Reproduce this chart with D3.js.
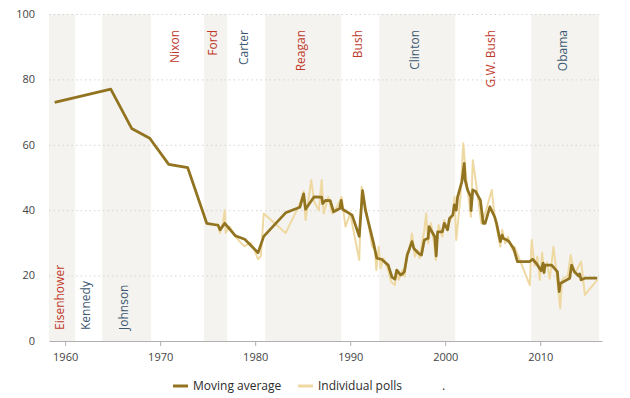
<!DOCTYPE html>
<html>
<head>
<meta charset="utf-8">
<script src="https://cdn.jsdelivr.net/npm/d3@7"></script>
<style>
  body { margin: 0; background: #fff; }
  text { font-family: "Open Sans", sans-serif; }
</style>
</head>
<body>
<div id="chart"></div>
<script>
// presidencies (start / end as decimal years)
const presidents = ["Eisenhower", "Kennedy", "Johnson", "Nixon", "Ford", "Carter", "Reagan", "Bush", "Clinton", "G.W. Bush", "Obama"];
const termStart = [1958.3, 1961.05, 1963.9, 1969.05, 1974.6, 1977.05, 1981.05, 1989.05, 1993.05, 2001.05, 2009.05];
const termEnd = [1961.05, 1963.9, 1969.05, 1974.6, 1977.05, 1981.05, 1989.05, 1993.05, 2001.05, 2009.05, 2016.2];
const party = ["R", "D", "D", "R", "R", "D", "R", "R", "D", "R", "D"];

const xTicks = [1960, 1970, 1980, 1990, 2000, 2010];
const yTicks = [0, 20, 40, 60, 80, 100];
const legendLabels = ["Moving average", "Individual polls"];

// [year, percent]
const movingAverage = [
  [1958.9, 73], [1964.8, 77], [1967.0, 65], [1968.9, 62], [1970.9, 54], [1972.9, 53],
  [1974.9, 36], [1976.1, 35.4], [1976.3, 34], [1976.8, 36], [1977.9, 32.2], [1978.9, 31.1],
  [1980.3, 27], [1980.9, 32], [1983.2, 39.2], [1984.7, 40.9], [1985.1, 45], [1985.3, 40.3],
  [1986.2, 44.1], [1987.0, 44], [1987.1, 42], [1987.4, 43], [1987.9, 42.9], [1988.25, 39.5],
  [1988.9, 40.5], [1989.05, 43], [1989.2, 40.3], [1990.2, 38.5], [1990.95, 32], [1991.3, 46],
  [1991.6, 40], [1992.45, 30], [1992.8, 25.3], [1993.3, 25], [1994.0, 23.2], [1994.4, 19.5],
  [1994.7, 18.9], [1994.9, 21.7], [1995.3, 20.2], [1995.5, 20.5], [1995.7, 21.2], [1996.0, 26.3],
  [1996.5, 30.4], [1996.7, 28.3], [1997.2, 26.8], [1997.5, 26.3], [1997.8, 30.9], [1998.2, 31.4],
  [1998.3, 35], [1998.6, 33.4], [1998.9, 31.9], [1999.05, 26], [1999.2, 33.4], [1999.7, 33.4],
  [1999.9, 36], [2000.25, 34], [2000.45, 37.5], [2000.8, 38.5], [2000.95, 41.6], [2001.16, 40],
  [2001.3, 44], [2001.75, 48.7], [2002.0, 54.3], [2002.1, 49.2], [2002.35, 46.2], [2002.7, 44.1],
  [2002.72, 39.9], [2002.9, 46.2], [2003.2, 45.7], [2003.7, 43.1], [2004.0, 36], [2004.2, 36],
  [2004.7, 41], [2005.2, 38], [2005.4, 36], [2005.8, 30.4], [2006.0, 32.4], [2006.1, 31.4],
  [2006.5, 30.9], [2006.7, 30.4], [2007.2, 28.3], [2007.6, 24.3], [2008.9, 24.3], [2009.2, 25],
  [2009.65, 23.5], [2010.1, 21.5], [2010.3, 23.8], [2010.4, 20.9], [2010.5, 23.2], [2011.2, 23.2],
  [2011.5, 22.2], [2011.8, 21.2], [2012.0, 15.1], [2012.1, 17.6], [2012.8, 18.7], [2013.1, 19.2],
  [2013.3, 23.2], [2013.6, 21.2], [2014.05, 19.9], [2014.15, 20.5], [2014.3, 18.7], [2014.7, 19.2],
  [2016.0, 19.2]
];

const polls = [
  [1976.0, 36], [1976.3, 33], [1976.6, 36], [1976.8, 40], [1976.9, 33], [1977.3, 35], [1977.9, 32],
  [1978.5, 30], [1978.9, 29], [1979.5, 30], [1979.9, 28], [1980.3, 25], [1980.6, 26], [1980.9, 39],
  [1983.2, 33], [1984.7, 42], [1985.1, 45.7], [1985.3, 37], [1985.9, 49.2], [1986.2, 42.6],
  [1986.7, 40], [1987.0, 49.2], [1987.2, 39], [1987.7, 44], [1988.1, 39], [1988.6, 41], [1989.1, 44],
  [1989.5, 35], [1990.0, 39], [1990.95, 24.8], [1991.2, 47.2], [1991.75, 39], [1992.3, 29],
  [1992.6, 27.8], [1992.75, 21.7], [1993.0, 28.8], [1993.2, 22.2], [1993.5, 25.3], [1994.0, 21.7],
  [1994.3, 18.1], [1994.7, 17.1], [1994.9, 21.7], [1995.1, 18.7], [1995.5, 21.7], [1995.7, 19.7],
  [1996.0, 26.8], [1996.2, 27.3], [1996.5, 32.9], [1996.8, 25.8], [1997.1, 27.8], [1997.3, 25.3],
  [1997.8, 33.9], [1998.0, 39], [1998.2, 29.9], [1998.5, 36], [1998.8, 30.4], [1999.0, 24.8],
  [1999.3, 35.5], [1999.7, 31.9], [1999.9, 37], [2000.2, 34], [2000.4, 36], [2000.8, 38.5],
  [2000.98, 44.1], [2001.16, 30.9], [2001.6, 44], [2001.9, 60.5], [2002.2, 50.2], [2002.5, 43.1],
  [2002.7, 38], [2002.9, 55.3], [2003.3, 47.2], [2003.8, 36], [2004.2, 39], [2004.9, 46.2],
  [2005.2, 38], [2005.8, 28.8], [2006.0, 34], [2006.3, 29.9], [2006.6, 31.9], [2007.1, 27.8],
  [2007.3, 28.8], [2008.9, 17.1], [2009.1, 30.9], [2009.4, 23], [2009.7, 25.8], [2009.95, 18.7],
  [2010.2, 27], [2010.4, 21], [2010.7, 24], [2011.0, 19], [2011.4, 28.8], [2011.7, 21],
  [2012.1, 10], [2012.3, 18.7], [2012.9, 20], [2013.2, 26.3], [2013.6, 20.7], [2013.9, 22],
  [2014.3, 24.3], [2014.7, 14.1], [2016.0, 18.7]
];

// svg setup
const width = 630, height = 398;
const margin = { top: 14, right: 28, bottom: 57, left: 49 };
const partyColor = { R: "#c0392b", D: "#3b5871" };

const svg = d3.select("#chart")
  .append("svg")
  .attr("width", width)
  .attr("height", height);

const x = d3.scaleLinear()
  .domain([1958.3, 2016.5])
  .range([margin.left, width - margin.right]);

const y = d3.scaleLinear()
  .domain([0, 100])
  .range([height - margin.bottom, margin.top]);

const plotRight = x(2016.2);

// presidency bands
svg.append("g")
  .selectAll("rect")
  .data(presidents.filter((p, i) => i % 2 === 0))
  .enter()
  .append("rect")
  .attr("x", p => x(termStart[presidents.indexOf(p)]))
  .attr("width", p => x(termEnd[presidents.indexOf(p)]) - x(termStart[presidents.indexOf(p)]))
  .attr("y", y(100))
  .attr("height", y(0) - y(100))
  .attr("fill", "#f4f3ef");

// gridlines
svg.append("g")
  .selectAll("line")
  .data(yTicks.filter(t => t > 0))
  .enter()
  .append("line")
  .attr("x1", margin.left)
  .attr("x2", plotRight)
  .attr("y1", d => y(d) + 0.5)
  .attr("y2", d => y(d) + 0.5)
  .attr("stroke", "#d4d4d4")
  .attr("stroke-dasharray", "1.5,3");

// president labels
svg.append("g")
  .selectAll("text")
  .data(presidents)
  .enter()
  .append("text")
  .attr("transform", (p, i) => {
    const cx = x((termStart[i] + termEnd[i]) / 2);
    const ty = i < 3 ? 330 : 30;
    return "translate(" + cx + "," + ty + ")rotate(-90)";
  })
  .attr("dy", "0.12em")
  .attr("text-anchor", (p, i) => i < 3 ? "start" : "end")
  .style("font-size", "12px")
  .attr("fill", (p, i) => partyColor[party[i]])
  .text(p => p);

// x axis
const xAxis = svg.append("g")
  .attr("transform", "translate(0," + y(0) + ")")
  .call(d3.axisBottom(x).tickValues(xTicks).tickFormat(d3.format("d")).tickSize(5).tickSizeOuter(0));
xAxis.select(".domain").attr("stroke", "#b0b0b0");
xAxis.selectAll(".tick line").attr("stroke", "#b0b0b0");
xAxis.selectAll("text")
  .attr("dy", "1.05em")
  .style("font-size", "11px")
  .style("font-family", "'Open Sans', sans-serif")
  .attr("fill", "#444");

// y axis labels
svg.append("g")
  .selectAll("text")
  .data(yTicks)
  .enter()
  .append("text")
  .attr("x", 35)
  .attr("y", d => y(d))
  .attr("dy", "0.35em")
  .attr("text-anchor", "end")
  .style("font-size", "11px")
  .attr("fill", "#444")
  .text(d => d);

// lines
const line = d3.line()
  .x(d => x(d[0]))
  .y(d => y(d[1]));

svg.append("path")
  .datum(polls)
  .attr("fill", "none")
  .attr("stroke", "#efd9a2")
  .attr("stroke-width", 2)
  .attr("stroke-linejoin", "round")
  .attr("d", line);

svg.append("path")
  .datum(movingAverage)
  .attr("fill", "none")
  .attr("stroke", "#917320")
  .attr("stroke-width", 2.75)
  .attr("stroke-linejoin", "round")
  .attr("d", line);

// legend
const legendColors = ["#917320", "#efd9a2"];
const legendX = [173, 298];
const legend = svg.append("g");
legendLabels.forEach((label, i) => {
  legend.append("line")
    .attr("x1", legendX[i]).attr("x2", legendX[i] + 15)
    .attr("y1", 386).attr("y2", 386)
    .attr("stroke", legendColors[i])
    .attr("stroke-width", 3);
  legend.append("text")
    .attr("x", legendX[i] + 20)
    .attr("y", 386)
    .attr("dy", "0.35em")
    .style("font-size", "12px")
    .attr("fill", "#2b2b2b")
    .text(label);
});
legend.append("text")
  .attr("x", 442)
  .attr("y", 386)
  .attr("dy", "0.35em")
  .style("font-size", "12px")
  .attr("fill", "#2b2b2b")
  .text(".");
</script>
</body>
</html>
